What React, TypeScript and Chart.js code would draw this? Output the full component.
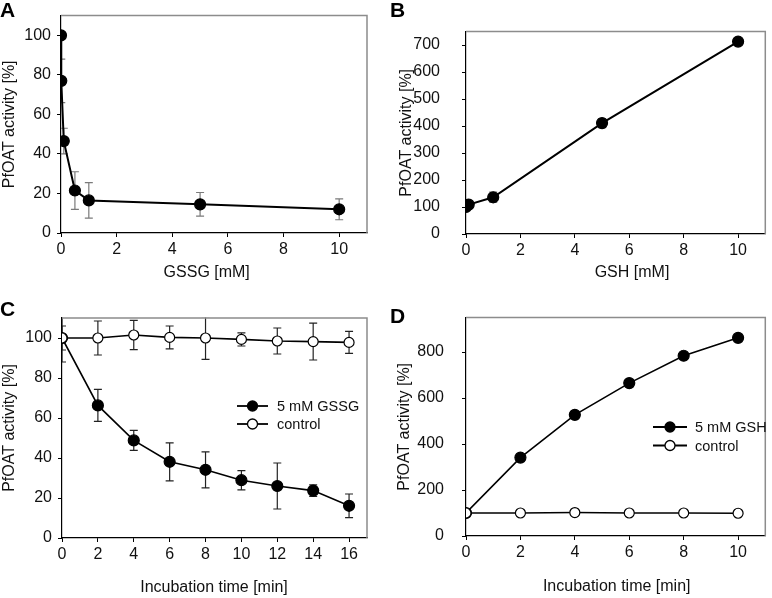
import React, { useEffect, useRef } from 'react';
import { Chart, registerables } from 'chart.js';

Chart.register(...registerables);

// ---------- Data ----------
// Panel A: GSSG concentration series
const gssgConc = [0, 0.01, 0.1, 0.5, 1, 5, 10];
const gssgActivity = [100, 77, 46.5, 21.5, 16.5, 14.5, 12];
const gssgErr = [0, 11, 6.5, 9.5, 9, 6, 5.3];

// Panel B: GSH concentration series
const gshConc = [0, 0.1, 1, 5, 10];
const gshActivity = [100, 109, 136, 411, 713];
const gshErr = [4, 5, 19, 17, 3];

// Panel C: time course with 5 mM GSSG
const timeC = [0, 2, 4, 6, 8, 10, 12, 14, 16];
const gssgTimeActivity = [100, 66.3, 48.8, 38.1, 34.1, 28.9, 26, 23.7, 16.1];
const gssgTimeErr = [12, 8, 5, 9.5, 9, 4.8, 11.5, 2.9, 5.9];
const controlCActivity = [100, 100, 101.5, 100.3, 100, 99.3, 98.5, 98.2, 97.8];
const controlCErr = [6, 8.5, 7.3, 5.7, 10.7, 3.3, 6.5, 9.2, 5.5];

// Panel D: time course with 5 mM GSH
const timeD = [0, 2, 4, 6, 8, 10];
const gshTimeActivity = [100, 341, 527, 665, 784, 862];
const controlDActivity = [100, 100, 102, 100, 100, 99];

// Tick labels
const ticksConc = [0, 2, 4, 6, 8, 10];
const ticksPctA = [0, 20, 40, 60, 80, 100];
const ticksPctB = [0, 100, 200, 300, 400, 500, 600, 700];
const ticksTimeC = [0, 2, 4, 6, 8, 10, 12, 14, 16];
const ticksPctC = [0, 20, 40, 60, 80, 100];
const ticksTimeD = [0, 2, 4, 6, 8, 10];
const ticksPctD = [0, 200, 400, 600, 800];

// Texts
const yTitle = 'PfOAT activity [%]';
const xTitleA = 'GSSG [mM]';
const xTitleB = 'GSH [mM]';
const xTitleTime = 'Incubation time [min]';
const legendC = ['5 mM GSSG', 'control'];
const legendD = ['5 mM GSH', 'control'];

const FONT = "'Liberation Sans', Arial, Helvetica, sans-serif";

const toXY = (xs: number[], ys: number[]) => xs.map((x, i) => ({ x, y: ys[i] }));

const errorBarPlugin = {
  id: 'errorBars',
  beforeDatasetsDraw(chart: any) {
    const { ctx, chartArea, scales } = chart;
    const xs = scales.x;
    const ys = scales.y;
    ctx.save();
    ctx.beginPath();
    ctx.rect(chartArea.left, chartArea.top - 0.5, chartArea.right - chartArea.left, chartArea.bottom - chartArea.top + 1);
    ctx.clip();
    chart.data.datasets.forEach((ds: any) => {
      if (!ds.errors) return;
      ctx.strokeStyle = ds.errorColor || '#000';
      ctx.lineWidth = 1.2;
      ds.data.forEach((pt: any, i: number) => {
        const e = ds.errors[i];
        if (!e) return;
        const px = xs.getPixelForValue(pt.x);
        const top = ys.getPixelForValue(pt.y + e);
        const bot = ys.getPixelForValue(pt.y - e);
        const cw = 4;
        ctx.beginPath();
        ctx.moveTo(px, top);
        ctx.lineTo(px, bot);
        ctx.moveTo(px - cw, top);
        ctx.lineTo(px + cw, top);
        ctx.moveTo(px - cw, bot);
        ctx.lineTo(px + cw, bot);
        ctx.stroke();
      });
    });
    ctx.restore();
  },
};

const framePlugin = {
  id: 'frame',
  afterDraw(chart: any) {
    const { ctx, chartArea } = chart;
    ctx.save();
    ctx.strokeStyle = '#8c8c8c';
    ctx.lineWidth = 1.5;
    ctx.beginPath();
    ctx.moveTo(chartArea.left, chartArea.top);
    ctx.lineTo(chartArea.right, chartArea.top);
    ctx.lineTo(chartArea.right, chartArea.bottom);
    ctx.stroke();
    ctx.restore();
  },
};

const decorPlugin = {
  id: 'decor',
  afterDraw(chart: any, _args: any, opts: any) {
    const { ctx } = chart;
    ctx.save();
    if (opts.letter) {
      ctx.fillStyle = '#000';
      ctx.font = `bold 21px ${FONT}`;
      ctx.textAlign = 'left';
      ctx.textBaseline = 'alphabetic';
      ctx.fillText(opts.letter.text, opts.letter.x, opts.letter.y);
    }
    if (opts.xTitle) {
      ctx.fillStyle = '#111';
      ctx.font = `16px ${FONT}`;
      ctx.textAlign = 'center';
      ctx.textBaseline = 'middle';
      ctx.fillText(opts.xTitle.text, opts.xTitle.x, opts.xTitle.y);
    }
    if (opts.legend) {
      const L = opts.legend;
      L.items.forEach((it: any, i: number) => {
        const y = L.y + i * L.rowGap;
        ctx.strokeStyle = '#000';
        ctx.lineWidth = 1.8;
        ctx.beginPath();
        ctx.moveTo(L.x0, y);
        ctx.lineTo(L.x1, y);
        ctx.stroke();
        ctx.beginPath();
        ctx.arc((L.x0 + L.x1) / 2, y, 5, 0, Math.PI * 2);
        ctx.fillStyle = it.fill;
        ctx.fill();
        ctx.lineWidth = 1.3;
        ctx.stroke();
        ctx.fillStyle = '#111';
        ctx.font = `14.5px ${FONT}`;
        ctx.textAlign = 'left';
        ctx.textBaseline = 'middle';
        ctx.fillText(it.text, L.tx, y + 1);
      });
    }
    ctx.restore();
  },
};

type PanelCfg = {
  left: number; top: number; w: number; h: number;
  area: { l: number; r: number; t: number; b: number };
  xMax: number; yMax: number;
  xTicks: number[]; yTicks: number[];
  xTitle: any; yTitlePad: number; yTickPad: number;
  datasets: any[];
  letter: any; legend?: any;
};

function buildConfig(p: PanelCfg): any {
  const tickFont = { family: FONT, size: 16 };
  return {
    type: 'line',
    data: { datasets: p.datasets },
    options: {
      responsive: false,
      animation: false,
      events: [],
      layout: { padding: { left: 0, top: p.area.t, right: p.w - p.area.r, bottom: 0 } },
      scales: {
        x: {
          type: 'linear',
          min: 0,
          max: p.xMax,
          afterBuildTicks: (s: any) => { s.ticks = p.xTicks.map((v) => ({ value: v })); },
          afterFit: (s: any) => { s.height = p.h - p.area.b; },
          ticks: { font: tickFont, color: '#111', padding: 3, maxRotation: 0, autoSkip: false },
          grid: { display: true, drawOnChartArea: false, drawTicks: true, tickLength: 4, color: '#000', lineWidth: 1 },
          border: { display: true, color: '#000', width: 1.2 },
          title: { display: false },
        },
        y: {
          type: 'linear',
          min: 0,
          max: p.yMax,
          afterBuildTicks: (s: any) => { s.ticks = p.yTicks.map((v) => ({ value: v })); },
          afterFit: (s: any) => { s.width = p.area.l; },
          ticks: { font: tickFont, color: '#111', padding: p.yTickPad, autoSkip: false },
          grid: { display: true, drawOnChartArea: false, drawTicks: true, tickLength: 4, color: '#000', lineWidth: 1 },
          border: { display: true, color: '#000', width: 1.2 },
          title: { display: true, text: yTitle, font: tickFont, color: '#111', padding: { top: p.yTitlePad, bottom: 0 } },
        },
      },
      plugins: {
        legend: { display: false },
        tooltip: { enabled: false },
        decor: { letter: p.letter, legend: p.legend, xTitle: p.xTitle },
      },
    },
    plugins: [errorBarPlugin, framePlugin, decorPlugin],
  };
}

const filled = (data: any[], errors: number[] | null, errorColor: string, width: number, r: number) => ({
  data,
  errors,
  errorColor,
  borderColor: '#000',
  borderWidth: width,
  pointRadius: r,
  pointBackgroundColor: '#000',
  pointBorderColor: '#000',
  pointBorderWidth: 1.2,
  tension: 0,
  fill: false,
});

const open = (data: any[], errors: number[] | null, errorColor: string, width: number, r: number) => ({
  data,
  errors,
  errorColor,
  borderColor: '#000',
  borderWidth: width,
  pointRadius: r,
  pointBackgroundColor: '#fff',
  pointBorderColor: '#000',
  pointBorderWidth: 1.2,
  tension: 0,
  fill: false,
});

const panels: PanelCfg[] = [
  {
    left: 0, top: 0, w: 386, h: 290,
    area: { l: 61, r: 367, t: 14, b: 233 },
    xMax: 11, yMax: 110, xTicks: ticksConc, yTicks: ticksPctA,
    xTitle: { text: xTitleA, x: 206.7, y: 273 }, yTitlePad: 0, yTickPad: 6,
    datasets: [filled(toXY(gssgConc, gssgActivity), gssgErr, '#7a7a7a', 2, 5.5)],
    letter: { text: 'A', x: 0, y: 17 },
  },
  {
    left: 386, top: 0, w: 386, h: 290,
    area: { l: 80, r: 384, t: 14, b: 234 },
    xMax: 11, yMax: 750, xTicks: ticksConc, yTicks: ticksPctB,
    xTitle: { text: xTitleB, x: 246, y: 273 }, yTitlePad: 11, yTickPad: 22,
    datasets: [filled(toXY(gshConc, gshActivity), gshErr, '#7a7a7a', 2, 5.5)],
    letter: { text: 'B', x: 4, y: 17 },
  },
  {
    left: 0, top: 290, w: 386, h: 308,
    area: { l: 62, r: 367, t: 28, b: 248 },
    xMax: 17, yMax: 110, xTicks: ticksTimeC, yTicks: ticksPctC,
    xTitle: { text: xTitleTime, x: 214, y: 298 }, yTitlePad: 0, yTickPad: 6,
    datasets: [
      open(toXY(timeC, controlCActivity), controlCErr, '#222', 1.6, 5),
      filled(toXY(timeC, gssgTimeActivity), gssgTimeErr, '#222', 1.6, 5.5),
    ],
    letter: { text: 'C', x: 0, y: 26 },
    legend: {
      x0: 237, x1: 268, tx: 277, y: 116, rowGap: 18,
      items: [{ text: legendC[0], fill: '#000' }, { text: legendC[1], fill: '#fff' }],
    },
  },
  {
    left: 386, top: 290, w: 386, h: 308,
    area: { l: 80, r: 385, t: 27, b: 246 },
    xMax: 11, yMax: 950, xTicks: ticksTimeD, yTicks: ticksPctD,
    xTitle: { text: xTitleTime, x: 230.7, y: 297 }, yTitlePad: 9, yTickPad: 18,
    datasets: [
      open(toXY(timeD, controlDActivity), null, '#222', 1.6, 5),
      filled(toXY(timeD, gshTimeActivity), null, '#222', 1.6, 5.5),
    ],
    letter: { text: 'D', x: 4, y: 33 },
    legend: {
      x0: 267, x1: 301, tx: 309, y: 137, rowGap: 18.5,
      items: [{ text: legendD[0], fill: '#000' }, { text: legendD[1], fill: '#fff' }],
    },
  },
];

function Panel({ cfg }: { cfg: PanelCfg }) {
  const ref = useRef<HTMLCanvasElement>(null);
  useEffect(() => {
    const chart = new Chart(ref.current as HTMLCanvasElement, buildConfig(cfg));
    return () => chart.destroy();
  }, [cfg]);
  return (
    <div style={{ position: 'absolute', left: cfg.left, top: cfg.top, width: cfg.w, height: cfg.h }}>
      <canvas ref={ref} width={cfg.w} height={cfg.h} style={{ width: cfg.w, height: cfg.h, display: 'block' }} />
    </div>
  );
}

export default function App() {
  return (
    <div style={{ position: 'fixed', left: 0, top: 0, width: 772, height: 598, background: '#fff', overflow: 'hidden' }}>
      {panels.map((p, i) => (
        <Panel key={i} cfg={p} />
      ))}
    </div>
  );
}
